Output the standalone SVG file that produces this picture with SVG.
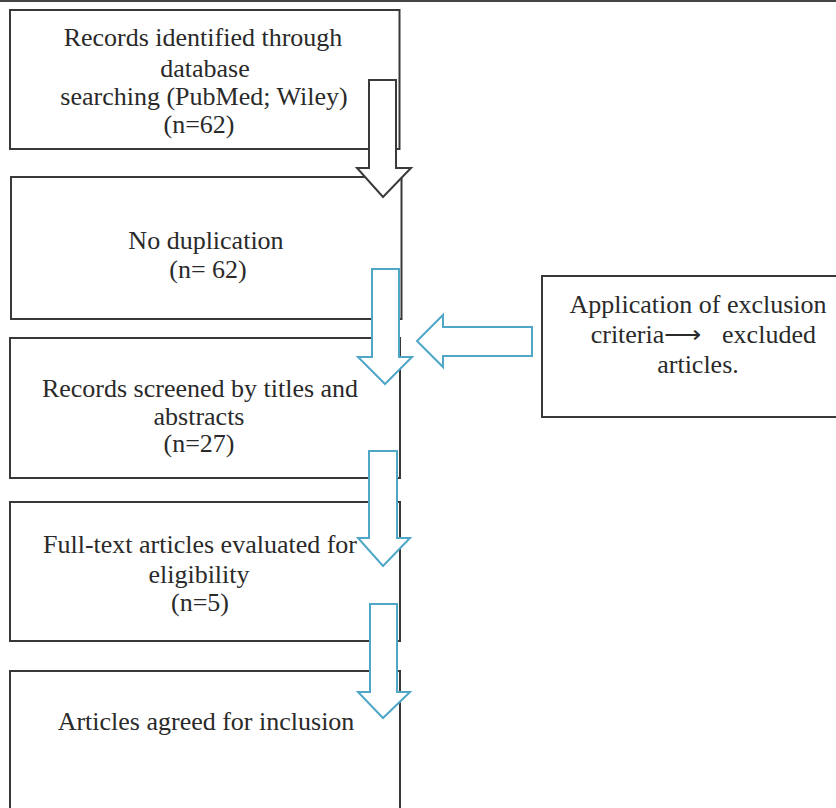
<svg xmlns="http://www.w3.org/2000/svg" width="836" height="808" viewBox="0 0 836 808">
<style>
.box{fill:#fff;stroke:#383838;stroke-width:2}
.t{font-family:"Liberation Serif","Times New Roman",serif;font-size:26px;fill:#2a2a2a;text-anchor:middle}
.ab{fill:#fff;stroke:#3a3a3a;stroke-width:2;stroke-linejoin:miter}
.bl{fill:#fff;stroke:#4fa6c6;stroke-width:2;stroke-linejoin:miter}
</style>
<rect width="836" height="808" fill="#fff"/>
<line x1="0" y1="1" x2="836" y2="1" stroke="#444" stroke-width="2"/>
<g id="n1">
<rect class="box" x="10" y="10" width="389.5" height="139"/>
<text class="t" x="203" y="46">Records identified through</text>
<text class="t" x="205" y="77">database</text>
<text class="t" x="204" y="105">searching (PubMed; Wiley)</text>
<text class="t" x="199" y="133">(n=62)</text>
</g>
<g id="n2">
<rect class="box" x="11" y="177" width="390.5" height="142"/>
<text class="t" x="206" y="249">No duplication</text>
<text class="t" x="208" y="278">(n= 62)</text>
</g>
<g id="n3">
<rect class="box" x="10" y="338" width="390" height="140"/>
<text class="t" x="200" y="397">Records screened by titles and</text>
<text class="t" x="199" y="425">abstracts</text>
<text class="t" x="199" y="452">(n=27)</text>
</g>
<g id="n4">
<rect class="box" x="10" y="502" width="390" height="139"/>
<text class="t" x="200" y="553">Full-text articles evaluated for</text>
<text class="t" x="199" y="583">eligibility</text>
<text class="t" x="200" y="611">(n=5)</text>
</g>
<g id="n5">
<rect class="box" x="10" y="671" width="390" height="150"/>
<text class="t" x="206" y="730">Articles agreed for inclusion</text>
</g>
<g id="side">
<rect class="box" x="542" y="276" width="310" height="141"/>
<text class="t" x="698" y="313">Application of exclusion</text>
<text class="t" y="343"><tspan x="646">criteria⟶</tspan><tspan x="769">excluded</tspan></text>
<text class="t" x="698" y="373">articles.</text>
</g>
<g id="connectors">
<polygon class="ab" points="369,80 396,80 396,168 411,168 383,197 357,168 369,168"/>
<polygon class="bl" points="372,269 399,269 399,357 412,357 385,384 358,357 372,357"/>
<polygon class="bl" points="532,327 443,327 443,315 417,341 443,367 443,356 532,356"/>
<polygon class="bl" points="369,451 397,451 397,538 410,538 383,566 358,538 369,538"/>
<polygon class="bl" points="370,604 397,604 397,692 410,692 383,718 358,692 370,692"/>
</g>
</svg>
